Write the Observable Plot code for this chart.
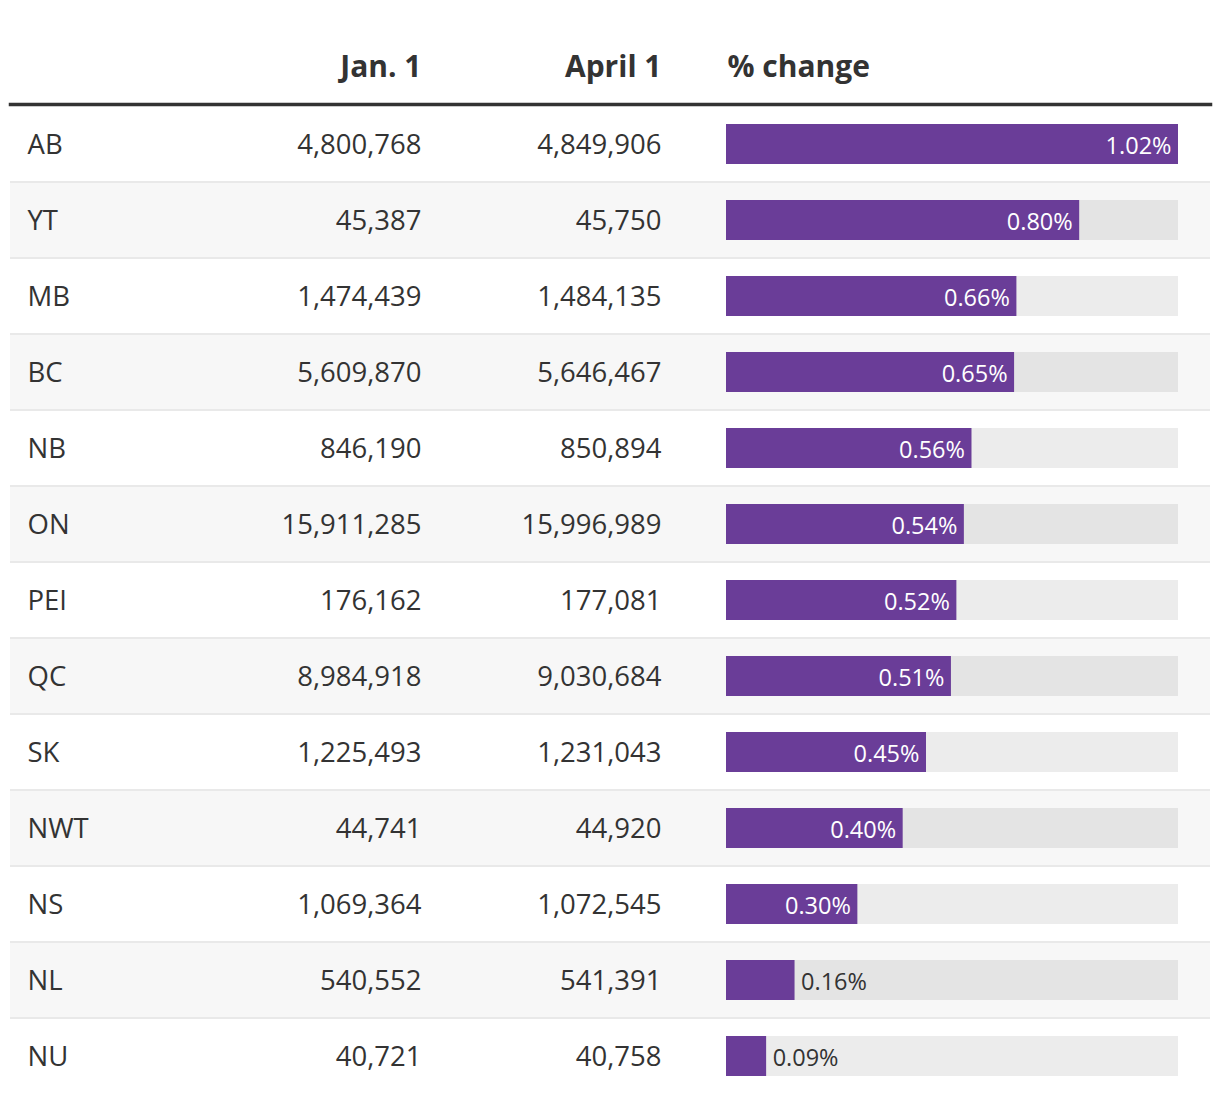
<!DOCTYPE html>
<html>
<head>
<meta charset="utf-8">
<script src="https://cdn.jsdelivr.net/npm/d3@7"></script>
<script src="https://cdn.jsdelivr.net/npm/@observablehq/plot@0.6"></script>
<style>
  html, body { margin: 0; padding: 0; background: #fff; }
  #chart svg { display: block; }
  #chart text.lbl { letter-spacing: 0.4px; }
</style>
</head>
<body>
<div id="chart"></div>
<script>
const regions = ["AB","YT","MB","BC","NB","ON","PEI","QC","SK","NWT","NS","NL","NU"];
const jan1 = [4800768, 45387, 1474439, 5609870, 846190, 15911285, 176162, 8984918, 1225493, 44741, 1069364, 540552, 40721];
const april1 = [4849906, 45750, 1484135, 5646467, 850894, 15996989, 177081, 9030684, 1231043, 44920, 1072545, 541391, 40758];
const headers = ["Jan. 1", "April 1", "% change"];

const rows = regions.map((r, i) => ({
  region: r,
  jan: jan1[i],
  apr: april1[i],
  pct: (april1[i] / jan1[i] - 1) * 100,
  idx: i
}));
const maxPct = d3.max(rows, d => d.pct);
const fmtInt = d3.format(",");
const fmtPct = d => d.toFixed(2) + "%";

const font = "'Open Sans', sans-serif";
const textColor = "#333333";
const purple = "#6a3d98";
const valueSize = 27.5;
const headSize = 30;

const chart = Plot.plot({
  width: 1220,
  height: 1102,
  marginTop: 105,
  marginBottom: 9,
  marginLeft: 10,
  marginRight: 10,
  style: { fontFamily: font, color: textColor, background: "#fff" },
  x: { domain: [0, maxPct], range: [726, 1178], axis: null },
  y: { domain: regions, padding: 0, axis: null },
  marks: [
    // row separators (between rows)
    Plot.cell(rows.filter(d => d.idx > 0), { y: "region", fill: "#e9e9e9" }),
    // row backgrounds (zebra)
    Plot.cell(rows.filter(d => d.idx === 0), { y: "region", fill: "#ffffff" }),
    Plot.cell(rows.filter(d => d.idx > 0), {
      y: "region",
      fill: d => d.idx % 2 === 1 ? "#f7f7f7" : "#ffffff",
      insetTop: 2
    }),
    // bar track
    Plot.barX(rows, {
      x1: 0, x2: maxPct, y: "region",
      fill: "#000", fillOpacity: 0.075,
      insetTop: 19, insetBottom: 17
    }),
    // bars
    Plot.barX(rows, {
      x1: 0, x2: "pct", y: "region",
      fill: purple,
      insetTop: 19, insetBottom: 17
    }),
    // bar labels inside
    Plot.text(rows.filter(d => d.pct >= 0.25), {
      x: "pct", y: "region", text: d => fmtPct(d.pct),
      textAnchor: "end", dx: -7, dy: 3,
      fill: "#fff", fontSize: 23.5, className: "lbl"
    }),
    // bar labels outside
    Plot.text(rows.filter(d => d.pct < 0.25), {
      x: "pct", y: "region", text: d => fmtPct(d.pct),
      textAnchor: "start", dx: 6, dy: 3,
      fill: textColor, fontSize: 23.5, className: "lbl"
    }),
    // region names
    Plot.text(rows, {
      y: "region", text: "region", frameAnchor: "left",
      textAnchor: "start", dx: 17, dy: 2,
      fill: textColor, fontSize: valueSize
    }),
    // Jan. 1 column
    Plot.text(rows, {
      y: "region", text: d => fmtInt(d.jan), frameAnchor: "left",
      textAnchor: "end", dx: 411, dy: 2,
      fill: textColor, fontSize: valueSize
    }),
    // April 1 column
    Plot.text(rows, {
      y: "region", text: d => fmtInt(d.apr), frameAnchor: "left",
      textAnchor: "end", dx: 651, dy: 2,
      fill: textColor, fontSize: valueSize
    }),
    // headers
    Plot.text([headers[0]], {
      text: d => d, frameAnchor: "top-left", textAnchor: "end",
      dx: 411, dy: -38, lineAnchor: "middle",
      fill: textColor, fontSize: headSize, fontWeight: "bold"
    }),
    Plot.text([headers[1]], {
      text: d => d, frameAnchor: "top-left", textAnchor: "end",
      dx: 651, dy: -38, lineAnchor: "middle",
      fill: textColor, fontSize: headSize, fontWeight: "bold"
    }),
    Plot.text([headers[2]], {
      text: d => d, frameAnchor: "top-left", textAnchor: "start",
      dx: 717, dy: -38, lineAnchor: "middle",
      fill: textColor, fontSize: headSize, fontWeight: "bold"
    }),
    // header rule
    Plot.frame({ anchor: "top", stroke: "#333333", strokeWidth: 3.5, insetTop: -1 })
  ]
});
document.getElementById("chart").append(chart);
</script>
</body>
</html>
